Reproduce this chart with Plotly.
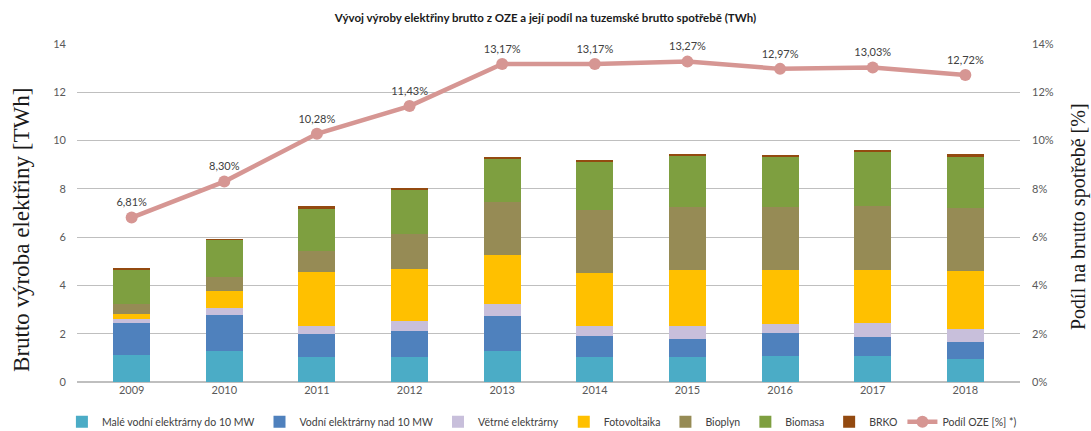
import plotly.graph_objects as go

years = ["2009", "2010", "2011", "2012", "2013", "2014", "2015", "2016", "2017", "2018"]

male_vodni = [1.10, 1.28, 1.03, 1.05, 1.28, 1.03, 1.03, 1.07, 1.07, 0.94]
vodni_nad10 = [1.33, 1.50, 0.94, 1.08, 1.44, 0.87, 0.76, 0.94, 0.80, 0.71]
vetrne = [0.20, 0.27, 0.37, 0.41, 0.51, 0.44, 0.55, 0.40, 0.58, 0.55]
fotovoltaika = [0.17, 0.71, 2.21, 2.15, 2.04, 2.17, 2.31, 2.24, 2.20, 2.38]
bioplyn = [0.42, 0.58, 0.88, 1.44, 2.19, 2.61, 2.60, 2.58, 2.63, 2.61]
biomasa = [1.44, 1.55, 1.76, 1.85, 1.78, 2.00, 2.14, 2.12, 2.25, 2.17]
brko = [0.03, 0.03, 0.08, 0.07, 0.07, 0.07, 0.07, 0.07, 0.09, 0.07]
podil_oze = [6.81, 8.30, 10.28, 11.43, 13.17, 13.17, 13.27, 12.97, 13.03, 12.72]

series = [
    ("Malé vodní elektrárny do 10 MW", male_vodni, "#4BACC6"),
    ("Vodní elektrárny nad 10 MW", vodni_nad10, "#4F81BD"),
    ("Větrné elektrárny", vetrne, "#C8BFDB"),
    ("Fotovoltaika", fotovoltaika, "#FFC000"),
    ("Bioplyn", bioplyn, "#968B55"),
    ("Biomasa", biomasa, "#7E9F40"),
    ("BRKO", brko, "#934A10"),
]

FONT = "Lato, 'Open Sans', sans-serif"
SERIF = "'Liberation Serif', 'DejaVu Serif', serif"

fig = go.Figure()
for name, vals, color in series:
    fig.add_trace(go.Bar(
        x=years, y=vals, name=name,
        marker=dict(color=color, line=dict(width=0)),
        yaxis="y",
    ))

fig.add_trace(go.Scatter(
    x=years, y=podil_oze, name="Podíl OZE [%] *)",
    mode="lines+markers+text",
    line=dict(color="#D69693", width=4.5),
    marker=dict(color="#D69693", size=12),
    text=[f"{v:.2f}%".replace(".", ",") for v in podil_oze],
    textposition="top center",
    textfont=dict(family=FONT, size=11, color="#404040"),
    yaxis="y2",
    cliponaxis=False,
))

# axis titles placed in the side margins
fig.add_annotation(
    text="Brutto výroba elektřiny [TWh]",
    xref="paper", yref="paper", x=-0.0583, y=0.45,
    textangle=-90, showarrow=False, xanchor="center", yanchor="middle",
    font=dict(family=SERIF, size=23, color="#1a1a1a"),
)
fig.add_annotation(
    text="Podíl na brutto spotřebě [%]",
    xref="paper", yref="paper", x=1.0615, y=0.491,
    textangle=-90, showarrow=False, xanchor="center", yanchor="middle",
    font=dict(family=SERIF, size=20, color="#1a1a1a"),
)

fig.update_layout(
    width=1091, height=431,
    barmode="stack",
    bargap=0.6,
    paper_bgcolor="white",
    plot_bgcolor="white",
    margin=dict(l=77, r=71, t=44, b=49, autoexpand=False),
    font=dict(family=FONT, size=11, color="#595959"),
    title=dict(
        text="<b>Vývoj výroby elektřiny brutto z OZE a její podíl na tuzemské brutto spotřebě (TWh)</b>",
        x=0.5, xanchor="center", y=0.958, yanchor="middle",
        font=dict(family=FONT, size=11.5, color="#1a1a1a"),
    ),
    xaxis=dict(
        type="category",
        showgrid=False,
        showline=False,
        ticks="",
        tickfont=dict(size=11, color="#595959"),
        automargin=False,
    ),
    yaxis=dict(
        range=[0, 14],
        dtick=2,
        showgrid=True,
        gridcolor="#BFBFBF",
        gridwidth=1,
        zeroline=True,
        zerolinecolor="#BFBFBF",
        ticks="",
        ticklen=0,
        ticklabelstandoff=10,
        tickfont=dict(size=11, color="#595959"),
        automargin=False,
    ),
    yaxis2=dict(
        range=[0, 14],
        dtick=2,
        overlaying="y",
        side="right",
        ticksuffix="%",
        showgrid=False,
        zeroline=False,
        automargin=False,
        ticklabelstandoff=11,
        tickfont=dict(size=11, color="#595959"),
    ),
    legend=dict(
        orientation="h",
        x=-0.016, xanchor="left",
        y=-0.075, yanchor="top",
        font=dict(family=FONT, size=10.5, color="#404040"),
        traceorder="normal",
        itemwidth=30,
    ),
)

fig.write_html("out.html")
